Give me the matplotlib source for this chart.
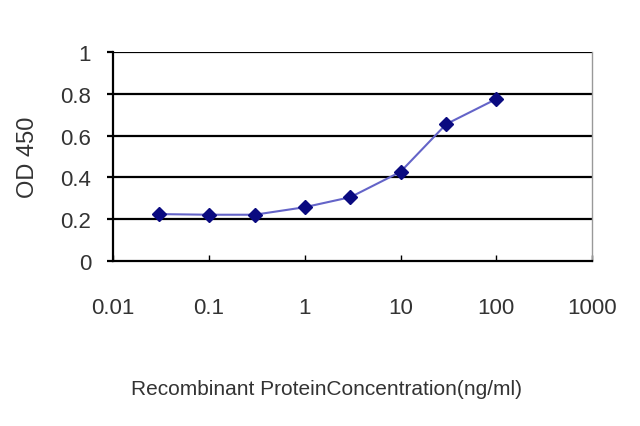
import matplotlib
matplotlib.use("Agg")
import matplotlib.pyplot as plt

concentration = [0.03, 0.1, 0.3, 1, 3, 10, 30, 100]
od450 = [0.225, 0.222, 0.222, 0.258, 0.306, 0.427, 0.655, 0.775]
x_ticks = [0.01, 0.1, 1, 10, 100, 1000]
x_tick_labels = ["0.01", "0.1", "1", "10", "100", "1000"]
y_ticks = [0, 0.2, 0.4, 0.6, 0.8, 1]
y_tick_labels = ["0", "0.2", "0.4", "0.6", "0.8", "1"]

plt.rcParams['font.family'] = ['Liberation Sans', 'DejaVu Sans']

fig = plt.figure(figsize=(6.4, 4.27), dpi=100)
ax = fig.add_axes([0.177, 0.386, 0.748, 0.490])
ax.set_xscale('log')
ax.set_xlim(0.01, 1000)
ax.set_ylim(0, 1)

for yv in y_ticks[1:]:
    ax.axhline(yv, color='black', lw=1.6, zorder=1)

ax.plot(concentration, od450, color='#6464c8', lw=1.5, zorder=2)
ax.plot(concentration, od450, linestyle='none', marker='D', ms=7,
        color='#0a0a80', zorder=3)

ax.set_xticks(x_ticks)
ax.set_xticklabels(x_tick_labels, fontsize=16, color='#333333')
ax.xaxis.set_minor_locator(matplotlib.ticker.NullLocator())
ax.set_yticks(y_ticks)
ax.set_yticklabels(y_tick_labels, fontsize=16, color='#333333')
ax.tick_params(axis='x', direction='in', length=4, width=1, pad=26)
ax.tick_params(axis='y', direction='out', length=4, width=1.6, pad=12)

for s in ['left', 'bottom']:
    ax.spines[s].set_linewidth(1.6)
    ax.spines[s].set_color('black')
ax.spines['top'].set_visible(False)
ax.spines['right'].set_color('#999999')
ax.spines['right'].set_linewidth(1)

ax.set_ylabel("OD 450", fontsize=17, color='#333333')
ax.yaxis.set_label_coords(-0.155, 0.5)
ax.set_xlabel("Recombinant ProteinConcentration(ng/ml)", fontsize=15,
              color='#333333')
ax.xaxis.set_label_coords(0.445, -0.565)

fig.savefig("out.png", dpi=100, facecolor='white')
